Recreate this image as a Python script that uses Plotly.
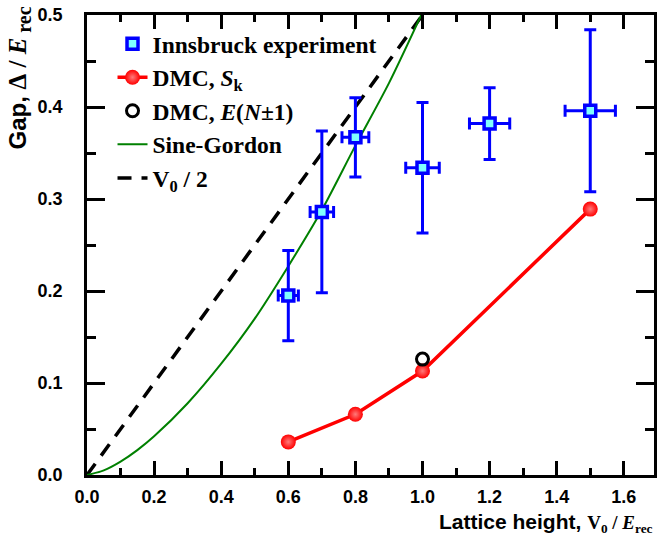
import plotly.graph_objects as go

# Innsbruck experiment
exp_x = [0.6, 0.7, 0.8, 1.0, 1.2, 1.5]
exp_y = [0.195, 0.286, 0.367, 0.334, 0.382, 0.396]
exp_yerr = [0.049, 0.088, 0.043, 0.071, 0.039, 0.088]
exp_xerr = [0.03, 0.035, 0.04, 0.05, 0.06, 0.075]

# DMC, S_k
dmc_x = [0.6, 0.8, 1.0, 1.5]
dmc_y = [0.036, 0.066, 0.113, 0.289]

# DMC, E(N±1)
dmce_x = [1.0]
dmce_y = [0.126]

# Sine-Gordon curve
sg_x = [0, 0.05, 0.1, 0.15, 0.2, 0.3, 0.4, 0.5, 0.6, 0.7, 0.8, 0.9, 1.0]
sg_y = [0, 0.005, 0.0145, 0.027, 0.042, 0.078, 0.121, 0.170, 0.227, 0.288, 0.358, 0.426, 0.503]

# V0 / 2
half_x = [0, 1.0]
half_y = [0, 0.5]

SERIF = "Liberation Serif"
SANS = "Liberation Sans"

fig = go.Figure()

fig.add_trace(go.Scatter(
    x=half_x, y=half_y, mode="lines", name="V<sub>0</sub> / 2",
    line=dict(color="black", width=3.5, dash="14px,10px"), legendrank=5))
fig.add_trace(go.Scatter(
    x=sg_x, y=sg_y, mode="lines", name="Sine-Gordon",
    line=dict(color="#008000", width=2, shape="spline", smoothing=0.8), legendrank=4))
fig.add_trace(go.Scatter(
    x=dmc_x, y=dmc_y, mode="lines+markers", name="DMC, <i>S</i><sub>k</sub>",
    line=dict(color="#ff0000", width=3.5),
    marker=dict(symbol="circle", size=15, color="#ff0000",
                gradient=dict(type="radial", color="#ff7a7a"),
                line=dict(width=0)),
    legendrank=2))
fig.add_trace(go.Scatter(
    x=dmce_x, y=dmce_y, mode="markers", name="DMC, <i>E</i>(<i>N</i>±1)",
    marker=dict(symbol="circle-open", size=12, color="black", line=dict(width=3)),
    legendrank=3))
fig.add_trace(go.Scatter(
    x=exp_x, y=exp_y, mode="markers", name="Innsbruck experiment",
    marker=dict(symbol="square", size=11, color="#80ffff",
                line=dict(color="#0000ff", width=3.5)),
    error_y=dict(type="data", array=exp_yerr, color="#0000ff", thickness=3, width=6),
    error_x=dict(type="data", array=exp_xerr, color="#0000ff", thickness=3, width=6),
    legendrank=1))

axis_common = dict(
    showline=True, linecolor="black", linewidth=2.5, mirror="ticks",
    ticks="inside", tickwidth=2.5, tickcolor="black",
    showgrid=False, zeroline=False,
    tickfont=dict(family=SANS, size=18, color="black", weight="bold"),
    tickformat=".1f",
)

fig.update_xaxes(range=[0, 1.69], dtick=0.2, tick0=0, ticklen=14, ticklabelstandoff=4,
                 minor=dict(dtick=0.1, ticklen=7, tickwidth=2.5, tickcolor="black", ticks="inside"),
                 **axis_common)
fig.update_yaxes(range=[0, 0.5], dtick=0.1, tick0=0, ticklen=18, ticklabelstandoff=18,
                 minor=dict(dtick=0.05, ticklen=9, tickwidth=2.5, tickcolor="black", ticks="inside"),
                 **axis_common)

fig.add_annotation(
    xref="x domain", yref="y domain", x=1, y=0, xanchor="right", yanchor="top",
    yshift=-33, xshift=1, showarrow=False,
    text=("<b>Lattice height, </b><span style=\"font-family:Liberation Serif;font-size:19px\"><b>V<sub>0</sub> / "
          "<i>E</i><sub>rec</sub></b></span>"),
    font=dict(family=SANS, size=21, color="black"))
fig.add_annotation(
    xref="x domain", yref="y domain", x=0, y=1, xanchor="center", yanchor="top",
    xshift=-68, yshift=10, showarrow=False, textangle=-90,
    text=("<b>Gap,</b> <span style=\"font-family:Liberation Serif;font-size:25px\"><b>Δ&nbsp;/&nbsp;"
          "<i>E</i></b></span><sub><span style=\"font-family:Liberation Serif;font-size:20px\"><b>&nbsp;rec</b></span></sub>"),
    font=dict(family=SANS, size=24, color="black"))

fig.update_layout(
    width=657, height=541,
    margin=dict(l=87, r=0, t=15, b=66),
    plot_bgcolor="white", paper_bgcolor="white",
    showlegend=True,
    legend=dict(x=0.045, y=0.985, xanchor="left", yanchor="top",
                bgcolor="rgba(0,0,0,0)",
                font=dict(family=SERIF, size=23.5, color="black", weight="bold")),
)

fig.write_html("out.html", config={"displayModeBar": False},
               post_script="document.body.style.margin='0px';document.body.style.padding='0px';")
